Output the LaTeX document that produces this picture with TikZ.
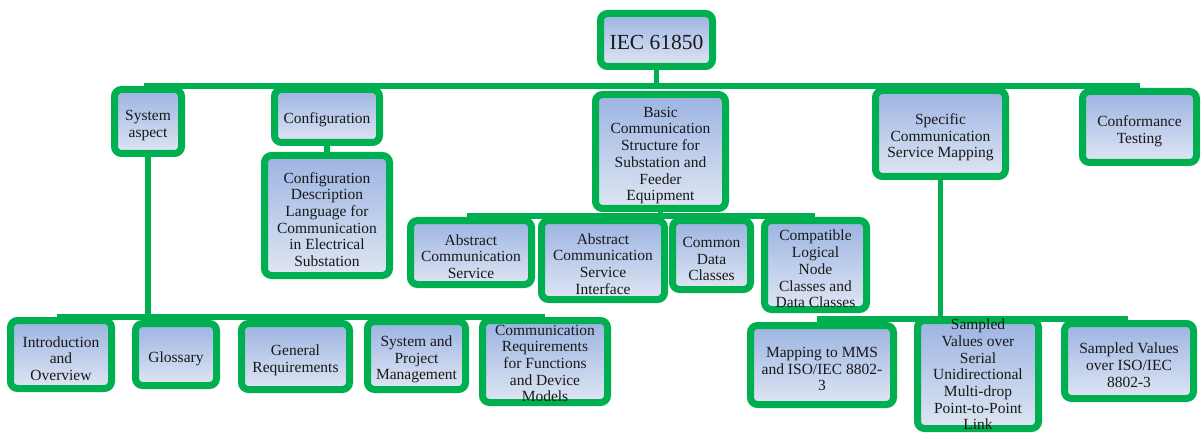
\documentclass[tikz,border=0pt]{standalone}
\usepackage{fontspec}
\setmainfont{Liberation Serif}
\usetikzlibrary{backgrounds}

\definecolor{frame}{RGB}{0,176,80}
\definecolor{fillTop}{RGB}{156,180,226}
\definecolor{fillBot}{RGB}{223,230,243}
\definecolor{ink}{RGB}{25,25,25}

\tikzset{
  box/.style={draw=frame, line width=7pt, rounded corners=7pt,
    top color=fillTop, bottom color=fillBot, inner sep=0pt},
  txt/.style={align=center, text=ink, inner sep=0pt,
    font=\fontsize{15.5pt}{16.7pt}\selectfont},
  conn/.style={draw=frame, line width=5.5pt},
}

% box with its caption: [text drop], name, x, y, width, height, text
\newcommand{\partbox}[7][4]{%
  \node[box, minimum width=#5pt, minimum height=#6pt] (#2) at (#3,#4) {};
  \node[txt] (#2-t) at ([yshift=-#1pt]#2.center) {#7};}

\begin{document}
\begin{tikzpicture}[x=1pt,y=1pt]
\useasboundingbox (0,-433) rectangle (1203,0);

% top level
\node[box, minimum width=112pt, minimum height=53pt] (root) at (656.5,-40) {};
\node[txt, font=\fontsize{21.5pt}{24pt}\selectfont] (root-t) at ([yshift=-2pt]root.center) {IEC 61850};

% parts of the standard
\partbox{sys}{148}{-121.5}{67}{64}{System\\aspect}
\partbox{cfg}{327}{-116}{105}{53}{Configuration}
\partbox{basic}{660.5}{-151.5}{130}{114}{Basic\\Communication\\Structure for\\Substation and\\Feeder\\Equipment}
\partbox{spec}{940.5}{-133.5}{130}{86}{Specific\\Communication\\Service Mapping}
\partbox{conf}{1139.5}{-127}{114}{71}{Conformance\\Testing}

\partbox{cdl}{327}{-215.5}{125}{120}{Configuration\\Description\\Language for\\Communication\\in Electrical\\Substation}

\partbox{acs}{471}{-252.5}{121}{64}{Abstract\\Communication\\Service}
\partbox{acsi}{603}{-260}{123}{79}{Abstract\\Communication\\Service\\Interface}
\partbox{cdc}{711.5}{-255}{78}{69}{Common\\Data\\Classes}
\partbox{cln}{815.5}{-265}{102}{89}{Compatible\\Logical\\Node\\Classes and\\Data Classes}

\partbox{intro}{61}{-354.5}{101}{68}{Introduction\\and\\Overview}
\partbox{glos}{176}{-354.5}{81}{62}{Glossary}
\partbox{gen}{295.5}{-356.5}{108}{66}{General\\Requirements}
\partbox{spm}{416.5}{-355.5}{98}{68}{System and\\Project\\Management}
\partbox[2]{creq}{545}{-361.5}{125}{82}{Communication\\Requirements\\for Functions\\and Device\\Models}

\partbox{mms}{822}{-365}{143}{79}{Mapping to MMS\\and ISO/IEC 8802-\\3}
\partbox[0]{svs}{978}{-374.5}{121}{108}{Sampled\\Values over\\Serial\\Unidirectional\\Multi-drop\\Point-to-Point\\Link}
\partbox{sv8}{1129}{-361}{129}{75}{Sampled Values\\over ISO/IEC\\8802-3}

% bus ends
\coordinate (topL) at (144,-86);
\coordinate (topR) at (1140,-86);
\coordinate (midL) at (467,-216);
\coordinate (midR) at (815,-216);
\coordinate (lowL) at (57,-317);
\coordinate (lowR) at (545,-317);
\coordinate (rgtL) at (817,-319);
\coordinate (rgtR) at (1128,-319);

\begin{scope}[on background layer]
  \draw[conn] (topL) -- (topR);
  \draw[conn] (root) -- (root |- topL);
  \draw[conn] (cfg) -- (cdl);
  \draw[conn] (midL) -- (midR);
  \draw[conn] (basic) -- (basic |- midL);
  \draw[conn] (lowL) -- (lowR);
  \draw[conn] (sys) -- (sys |- lowL);
  \draw[conn] (rgtL) -- (rgtR);
  \draw[conn] (spec) -- (spec |- rgtL);
\end{scope}
\end{tikzpicture}
\end{document}
